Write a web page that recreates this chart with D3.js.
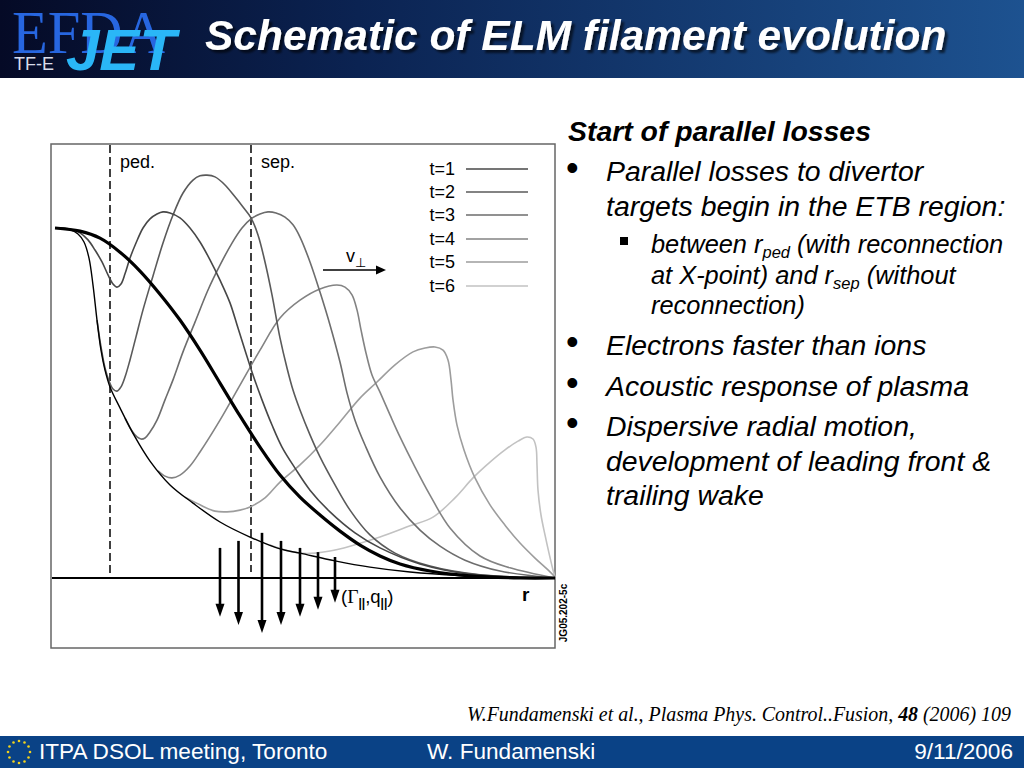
<!DOCTYPE html>
<html>
<head>
<meta charset="utf-8">
<script src="https://cdn.jsdelivr.net/npm/d3@7"></script>
<style>
body { margin: 0; background: #fff; }
svg { display: block; }
text { font-family: "Liberation Sans", Arial, sans-serif; }
</style>
</head>
<body>
<div class="slide"></div>
<script>
// r : radial position (0 = pedestal top, 100 = wall), n : density (pedestal = 100)
var initialProfile = [[0,100],[5,99.1],[9,97.1],[13,93.1],[17,87.7],[21,81.1],[25,73.7],[29,65.1],[33,55.7],[37,46.3],
    [41,37.4],[45,29.4],[49,23.1],[53,18],[57,13.4],[61,9.4],[65,6.3],[69,4],[75,2],[83,0.6],[93,0],[100,0]];
var envelope = [[0,100],[2.6,99.7],[4.6,98.3],[5.8,96],[6.8,91.4],[7.6,83.7],[8.4,73.7],[9.2,65.1],[10,59.4],[11,54.6],
    [13,48.6],[16,40.3],[19,33.4],[23,26.6],[27.6,21.4],[33,16],[39,11.7],[45,8.3],[49,7.1],[56,4.9],[63,3.1],
    [71,1.7],[81,0.7],[91,0.2],[100,0]];
var profileT1 = [[0,100],[3,99.7],[5,98.6],[6.6,96.6],[8,93.7],[9.4,90.3],[10.6,86.6],[11.6,84],[12.4,83.1],[13.2,84],
    [14,86.9],[15,91.4],[16.2,95.7],[17.6,100],[19,102.6],[20.4,104],[21.6,104.6],[23,104.3],[25,102.9],[27,100],
    [29,96],[31,90.9],[33,85.1],[35,78.6],[36.6,71.4],[38,65.1],[39.6,58],[41.4,50.9],[43.4,43.7],[45.4,37.4],
    [48,31.4],[51,25.1],[55,18.9],[60,12.9],[65,8.6],[73,4],[83,1.1],[100,0]];
var profileT2 = [[8.4,73.7],[9.2,66],[10,60],[10.8,56.3],[11.6,54],[12.4,53.4],[13.2,54.6],[14,57.4],[15,62.3],[16.2,68.9],
    [17.6,76.6],[19.6,86.3],[21.6,95.7],[23.6,103.7],[25.6,110],[27.6,113.7],[29,114.9],[30.4,115.1],[32,114.6],
    [34,112.3],[36,108.9],[37.6,106],[39.2,102.9],[40.6,98],[42,90.3],[43.4,80.9],[45,68.6],[46.4,60],[47.6,53.7],
    [49,48],[51,40.9],[53,34.6],[56,26.6],[59,19.4],[63,12.3],[68,7.1],[75,3.4],[85,0.9],[100,0]];
var profileT3 = [[14,45.7],[15.4,42],[16.4,40.3],[17.2,39.7],[18,40],[19,41.7],[20.4,45.1],[22,50.9],[23.6,56.6],[25.6,64.6],
    [28,73.1],[30.6,82.3],[33,89.4],[35.4,95.7],[37.4,100],[39.2,102.6],[41,104],[42.6,104.6],[44.2,104.3],[46,103.1],
    [47.6,100.9],[49,97.4],[51,90.3],[53,81.7],[55,72.3],[57,61.7],[58.4,52.9],[60,45.1],[62,38],[65,28.9],[69,20],
    [73,13.7],[77,9.1],[82,5.1],[89,2],[100,0]];
var profileT4 = [[20.6,30.6],[22,29.1],[23.4,28.6],[25,29.4],[27,32],[29,36],[33,45.1],[37,55.1],[41,65.1],[45,74.3],
    [49,79.4],[53,82.6],[56.4,83.7],[58,83.1],[59.4,80.9],[60.4,76.6],[61.2,70.9],[62.2,64.3],[63.4,58],[65,53.1],
    [67,46.6],[69,40.3],[72,31.7],[75,23.7],[79,14.3],[85,6.3],[91,2.9],[100,0]];
var profileT5 = [[26,23.1],[29,20.9],[32,19.1],[34.4,18.9],[37,19.4],[39,20.3],[42,22.9],[45,27.4],[49,32.3],[53,38],
    [57,44.6],[61,51.4],[64.4,56],[68,60.9],[71.6,64.6],[74,65.7],[76,66],[77.6,65.1],[78.6,62.3],[79.2,56.6],
    [79.6,50.9],[80.4,43.7],[81.8,36.6],[84,28.6],[87,20.9],[90,15.1],[93,10],[96,5.7],[98.6,2.3],[100,0.3]];
var profileT6 = [[43,9.4],[46,8],[49,7.1],[52,7.1],[55,7.7],[59,9.1],[65,11.7],[71,14.9],[75.6,17.4],[80,22.9],
    [83.6,28.6],[87,33.1],[90,36.6],[92.6,39.1],[94.4,40.3],[95.6,39.7],[96.2,37.4],[96.4,32.3],[96.6,25.1],
    [97.2,18],[98,12.3],[98.8,7.1],[99.6,2.3],[100,0.3]];

var timeLabels = ["t=1", "t=2", "t=3", "t=4", "t=5", "t=6"];
var timeColors = ["#474747", "#5a5a5a", "#6d6d6d", "#838383", "#9d9d9d", "#c2c2c2"];
var profiles = [profileT1, profileT2, profileT3, profileT4, profileT5, profileT6];

// parallel fluxes to the target (arrow position, start level, length)
var fluxR = [33, 36.7, 41.4, 45.2, 49, 52.6, 56];
var fluxTop = [8.6, 10.6, 12.9, 10.6, 8.6, 7.4, 6];
var fluxLen = [19.7, 24, 28.6, 24, 19.7, 16.5, 13.1];

var boundaryR = [11, 39.2];
var boundaryLabels = ["ped.", "sep."];

var svg = d3.select(".slide").append("svg")
    .attr("width", 1024)
    .attr("height", 768);

var defs = svg.append("defs");
var grad = defs.append("linearGradient").attr("id", "hdr").attr("x1", 0).attr("x2", 1).attr("y1", 0).attr("y2", 0);
grad.append("stop").attr("offset", "0%").attr("stop-color", "#050a26");
grad.append("stop").attr("offset", "35%").attr("stop-color", "#0b2352");
grad.append("stop").attr("offset", "100%").attr("stop-color", "#1d5290");
defs.append("filter").attr("id", "shadow")
    .append("feDropShadow")
    .attr("dx", 3).attr("dy", 3).attr("stdDeviation", 0.8)
    .attr("flood-color", "#000").attr("flood-opacity", 0.6);

// ---- header ----
svg.append("rect").attr("x", 0).attr("y", 0).attr("width", 1024).attr("height", 78).attr("fill", "url(#hdr)");
svg.append("text").attr("x", 12).attr("y", 53)
    .attr("textLength", 153).attr("lengthAdjust", "spacingAndGlyphs")
    .style("font-family", "'Liberation Serif', 'Times New Roman', serif")
    .style("font-size", "62px").attr("fill", "#2766e0").text("EFDA");
svg.append("text").attr("x", 66).attr("y", 70)
    .attr("textLength", 110).attr("lengthAdjust", "spacingAndGlyphs")
    .style("font-size", "58px").style("font-weight", "bold").style("font-style", "italic")
    .attr("fill", "#2ab6f7").text("JET");
svg.append("text").attr("x", 14).attr("y", 70)
    .style("font-size", "18px").attr("fill", "#d8dcea").text("TF-E");

svg.append("text").attr("x", 205).attr("y", 50)
    .attr("filter", "url(#shadow)")
    .style("font-size", "42.5px").style("font-weight", "bold").style("font-style", "italic")
    .attr("fill", "#fff").text("Schematic of ELM filament evolution");

// ---- plot ----
var x = d3.scaleLinear().domain([0, 100]).range([55, 555]);
var y = d3.scaleLinear().domain([0, 100]).range([578, 228]);

var plot = svg.append("g").attr("class", "plot");

plot.append("rect").attr("x", 51).attr("y", 144).attr("width", 504).attr("height", 504)
    .attr("fill", "#fff").attr("stroke", "#666").attr("stroke-width", 1.5);

plot.selectAll(".boundary")
    .data(boundaryR)
    .enter()
    .append("line")
    .attr("class", "boundary")
    .attr("x1", function(d){ return x(d); })
    .attr("x2", function(d){ return x(d); })
    .attr("y1", 145)
    .attr("y2", function(d, i){ return i == 0 ? y(0) : y(1.7); })
    .attr("stroke", "#111").attr("stroke-width", 1.6).attr("stroke-dasharray", "8,4");

plot.selectAll(".boundary-label")
    .data(boundaryLabels)
    .enter()
    .append("text")
    .attr("x", function(d, i){ return x(boundaryR[i]) + 10; })
    .attr("y", 168)
    .style("font-size", "18px")
    .text(function(d){ return d; });

plot.append("line")
    .attr("x1", 52).attr("x2", x(100))
    .attr("y1", y(0)).attr("y2", y(0))
    .attr("stroke", "#000").attr("stroke-width", 2);

var line = d3.line()
    .x(function(d){ return x(d[0]); })
    .y(function(d){ return y(d[1]); })
    .curve(d3.curveCatmullRom.alpha(0.5));

// later times underneath
for (var k = profiles.length - 1; k >= 0; k--) {
    plot.append("path")
        .attr("d", line(profiles[k]))
        .attr("fill", "none")
        .attr("stroke", timeColors[k])
        .attr("stroke-width", 1.6);
}

plot.append("path").attr("d", line(envelope))
    .attr("fill", "none").attr("stroke", "#000").attr("stroke-width", 1.4);
plot.append("path").attr("d", line(initialProfile))
    .attr("fill", "none").attr("stroke", "#000").attr("stroke-width", 3.2);

// parallel flux arrows
fluxR.forEach(function(r, i){
    var px = x(r);
    var top = y(fluxTop[i]);
    var tip = y(fluxTop[i] - fluxLen[i]);
    plot.append("line")
        .attr("x1", px).attr("x2", px)
        .attr("y1", top).attr("y2", tip - 8)
        .attr("stroke", "#000").attr("stroke-width", 2.6);
    plot.append("path")
        .attr("d", "M" + (px - 4.5) + "," + (tip - 13) + "L" + (px + 4.5) + "," + (tip - 13) + "L" + px + "," + tip + "Z")
        .attr("fill", "#000");
});

// v_perp arrow
var vR = [53.6, 66.2];
var vN = 88;
plot.append("line")
    .attr("x1", x(vR[0])).attr("x2", x(vR[1]) - 8)
    .attr("y1", y(vN)).attr("y2", y(vN))
    .attr("stroke", "#000").attr("stroke-width", 1.6);
plot.append("path")
    .attr("d", "M" + (x(vR[1]) - 10) + "," + (y(vN) - 4.5) + "L" + x(vR[1]) + "," + y(vN) + "L" + (x(vR[1]) - 10) + "," + (y(vN) + 4.5) + "Z")
    .attr("fill", "#000");
var vt = plot.append("text").attr("x", 346).attr("y", 262).style("font-size", "18px");
vt.append("tspan").text("v");
vt.append("tspan").attr("dy", 5).style("font-size", "13px").text("\u22A5");

// legend
var legend = plot.append("g").attr("class", "legend");
var legendY = [169, 192, 215, 239, 262, 286];
timeLabels.forEach(function(lbl, i){
    legend.append("text")
        .attr("x", 455).attr("y", legendY[i] + 6)
        .attr("text-anchor", "end")
        .style("font-size", "18px")
        .text(lbl);
    legend.append("line")
        .attr("x1", 466).attr("x2", 528)
        .attr("y1", legendY[i]).attr("y2", legendY[i])
        .attr("stroke", timeColors[i]).attr("stroke-width", 1.6);
});

// axis labels
plot.append("text").attr("x", 522).attr("y", 601)
    .style("font-size", "19px").style("font-weight", "bold").text("r");
var ft = plot.append("text").attr("x", 341).attr("y", 603).style("font-size", "18.5px");
ft.append("tspan").text("(");
ft.append("tspan").style("font-family", "'Liberation Serif', serif").style("font-size", "19.5px").text("\u0393");
ft.append("tspan").attr("dy", 4).style("font-size", "12px").style("font-weight", "bold").text("||");
ft.append("tspan").attr("dy", -4).text(",q");
ft.append("tspan").attr("dy", 4).style("font-size", "12px").style("font-weight", "bold").text("||");
ft.append("tspan").attr("dy", -4).text(")");

plot.append("text")
    .attr("transform", "translate(567,613) rotate(-90)")
    .attr("text-anchor", "middle")
    .style("font-size", "10px").style("font-weight", "bold")
    .text("JG05.202-5c");

// ---- bullet text ----
var notes = svg.append("g").attr("class", "notes");
function italicLine(xp, yp, size, str, bold) {
    return notes.append("text").attr("x", xp).attr("y", yp)
        .style("font-size", size + "px")
        .style("font-style", "italic")
        .style("font-weight", bold ? "bold" : "normal")
        .text(str);
}
italicLine(568, 141, 28.4, "Start of parallel losses", true);

var bulletY = [181, 355, 396, 436];
bulletY.forEach(function(b){
    notes.append("text").attr("x", 566).attr("y", b - 1).style("font-size", "36px").text("\u2022");
});
italicLine(606, 181, 28.4, "Parallel losses to divertor");
italicLine(606, 216, 28.4, "targets begin in the ETB region:");
italicLine(606, 355, 28.4, "Electrons faster than ions");
italicLine(606, 396, 28.4, "Acoustic response of plasma");
italicLine(606, 436, 28.4, "Dispersive radial motion,");
italicLine(606, 471, 28.4, "development of leading front &");
italicLine(606, 505, 28.4, "trailing wake");

notes.append("rect").attr("x", 620).attr("y", 237).attr("width", 8).attr("height", 8).attr("fill", "#000");
var s1 = italicLine(651, 253, 25.4, "between r");
s1.append("tspan").attr("dy", 5).style("font-size", "16.5px").text("ped");
s1.append("tspan").attr("dy", -5).text(" (with reconnection");
var s2 = italicLine(651, 284, 25.4, "at X-point) and r");
s2.append("tspan").attr("dy", 5).style("font-size", "16.5px").text("sep");
s2.append("tspan").attr("dy", -5).text(" (without");
italicLine(651, 314, 25.4, "reconnection)");

// citation
var cite = svg.append("text").attr("x", 467).attr("y", 721)
    .style("font-family", "'Liberation Serif', 'Times New Roman', serif")
    .style("font-size", "19.9px").style("font-style", "italic");
cite.append("tspan").text("W.Fundamenski et al., Plasma Phys. Control..Fusion, ");
cite.append("tspan").style("font-weight", "bold").text("48");
cite.append("tspan").text(" (2006) 109");

// ---- footer ----
svg.append("rect").attr("x", 0).attr("y", 736).attr("width", 1024).attr("height", 32).attr("fill", "#0a4286");
var stars = d3.range(12);
svg.selectAll(".star")
    .data(stars)
    .enter()
    .append("circle")
    .attr("cx", function(d){ return 19 + 11 * Math.cos(d * Math.PI / 6); })
    .attr("cy", function(d){ return 752 + 11 * Math.sin(d * Math.PI / 6); })
    .attr("r", 1.3)
    .attr("fill", "#f2d21c");
svg.append("text").attr("x", 39).attr("y", 759).style("font-size", "22.6px").attr("fill", "#fff").text("ITPA DSOL meeting, Toronto");
svg.append("text").attr("x", 427).attr("y", 759).style("font-size", "22.6px").attr("fill", "#fff").text("W. Fundamenski");
svg.append("text").attr("x", 1013).attr("y", 759).attr("text-anchor", "end").style("font-size", "22.6px").attr("fill", "#fff").text("9/11/2006");
</script>
</body>
</html>
